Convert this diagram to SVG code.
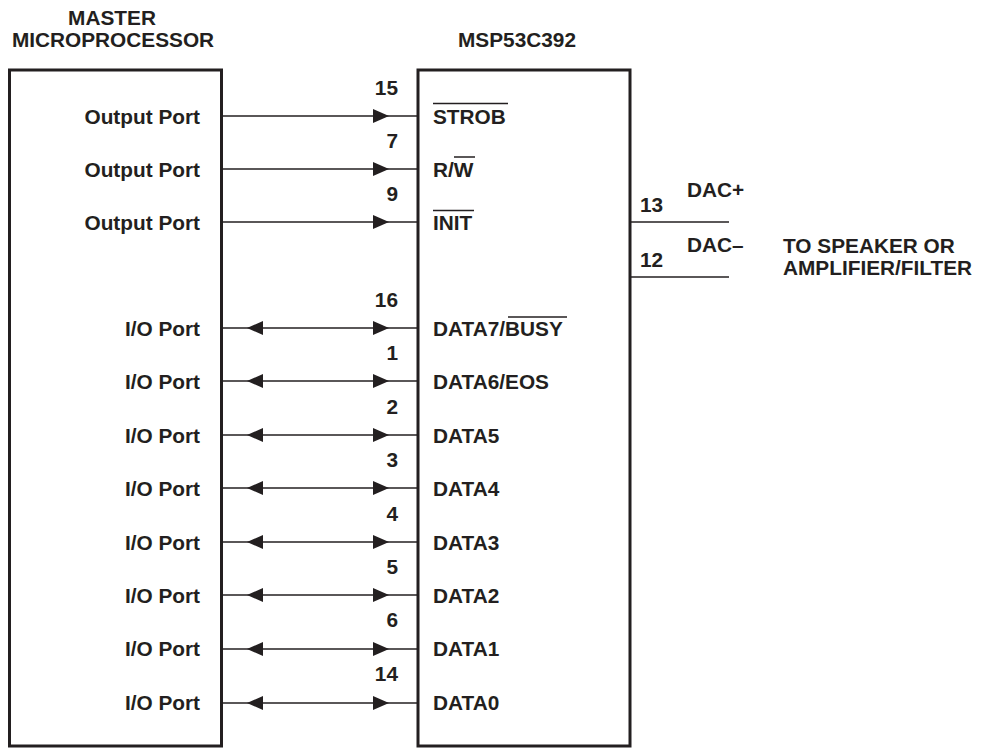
<svg xmlns="http://www.w3.org/2000/svg" width="981" height="749" viewBox="0 0 981 749">
<defs>
<style>
text{font-family:"Liberation Sans",Arial,Helvetica,sans-serif;font-weight:bold;font-size:20.8px;fill:#231f20}
.r{text-anchor:end}
.m{text-anchor:middle}
.box{fill:none;stroke:#231f20;stroke-width:3}
.w{stroke:#231f20;stroke-width:1.3;fill:none}
.ov{stroke:#231f20;stroke-width:1.5}
.ah{fill:#231f20}
</style>
</defs>
<rect width="981" height="749" fill="#fff"/>

<g id="master">
<rect class="box" x="9.5" y="70" width="212" height="676"/>
<text class="m" x="112" y="25">MASTER</text>
<text class="m" x="113" y="47">MICROPROCESSOR</text>
<text class="r" x="200" y="123.5">Output Port</text>
<text class="r" x="200" y="176.5">Output Port</text>
<text class="r" x="200" y="229.5">Output Port</text>
<text class="r" x="200" y="336">I/O Port</text>
<text class="r" x="200" y="389">I/O Port</text>
<text class="r" x="200" y="443">I/O Port</text>
<text class="r" x="200" y="496">I/O Port</text>
<text class="r" x="200" y="550">I/O Port</text>
<text class="r" x="200" y="603">I/O Port</text>
<text class="r" x="200" y="656">I/O Port</text>
<text class="r" x="200" y="710">I/O Port</text>
</g>

<g id="msp53c392">
<rect class="box" x="418" y="70" width="212" height="676"/>
<text class="m" x="517" y="47">MSP53C392</text>
<text x="433" y="123.5">STROB</text>
<line class="ov" x1="433" y1="103.5" x2="508" y2="103.5"/>
<text x="433" y="176.5">R/W</text>
<line class="ov" x1="454" y1="157" x2="475" y2="157"/>
<text x="433" y="229.5">INIT</text>
<line class="ov" x1="433" y1="210.5" x2="474" y2="210.5"/>
<text x="433" y="336">DATA7/BUSY</text>
<line class="ov" x1="508" y1="317" x2="567" y2="317"/>
<text x="433" y="389">DATA6/EOS</text>
<text x="433" y="443">DATA5</text>
<text x="433" y="496">DATA4</text>
<text x="433" y="550">DATA3</text>
<text x="433" y="603">DATA2</text>
<text x="433" y="656">DATA1</text>
<text x="433" y="710">DATA0</text>
</g>

<g id="pins">
<text class="r" x="398" y="95">15</text>
<text class="r" x="398" y="148">7</text>
<text class="r" x="398" y="201">9</text>
<text class="r" x="398" y="307">16</text>
<text class="r" x="398" y="360">1</text>
<text class="r" x="398" y="414">2</text>
<text class="r" x="398" y="467">3</text>
<text class="r" x="398" y="521">4</text>
<text class="r" x="398" y="574">5</text>
<text class="r" x="398" y="627">6</text>
<text class="r" x="398" y="681">14</text>
</g>

<g id="dac-output">
<text x="640" y="212">13</text>
<text x="687" y="197">DAC+</text>
<text x="640" y="267">12</text>
<text x="687" y="252">DAC–</text>
<text x="783" y="253">TO SPEAKER OR</text>
<text x="783" y="275">AMPLIFIER/FILTER</text>
</g>

<g id="connectors">
<line class="w" x1="222" y1="116" x2="418" y2="116"/>
<line class="w" x1="222" y1="169" x2="418" y2="169"/>
<line class="w" x1="222" y1="222" x2="418" y2="222"/>
<line class="w" x1="630" y1="222" x2="729" y2="222"/>
<line class="w" x1="630" y1="277" x2="729" y2="277"/>
<line class="w" x1="222" y1="328" x2="418" y2="328"/>
<line class="w" x1="222" y1="381" x2="418" y2="381"/>
<line class="w" x1="222" y1="435" x2="418" y2="435"/>
<line class="w" x1="222" y1="488" x2="418" y2="488"/>
<line class="w" x1="222" y1="542" x2="418" y2="542"/>
<line class="w" x1="222" y1="595" x2="418" y2="595"/>
<line class="w" x1="222" y1="649" x2="418" y2="649"/>
<line class="w" x1="222" y1="703" x2="418" y2="703"/>
<g class="ah">
<path d="M373,109 L389,116 L373,123 Z"/>
<path d="M373,162 L389,169 L373,176 Z"/>
<path d="M373,215 L389,222 L373,229 Z"/>
<path d="M373,321 L389,328 L373,335 Z M263,321 L247,328 L263,335 Z"/>
<path d="M373,374 L389,381 L373,388 Z M263,374 L247,381 L263,388 Z"/>
<path d="M373,428 L389,435 L373,442 Z M263,428 L247,435 L263,442 Z"/>
<path d="M373,481 L389,488 L373,495 Z M263,481 L247,488 L263,495 Z"/>
<path d="M373,535 L389,542 L373,549 Z M263,535 L247,542 L263,549 Z"/>
<path d="M373,588 L389,595 L373,602 Z M263,588 L247,595 L263,602 Z"/>
<path d="M373,642 L389,649 L373,656 Z M263,642 L247,649 L263,656 Z"/>
<path d="M373,696 L389,703 L373,710 Z M263,696 L247,703 L263,710 Z"/>
</g>
</g>
</svg>
